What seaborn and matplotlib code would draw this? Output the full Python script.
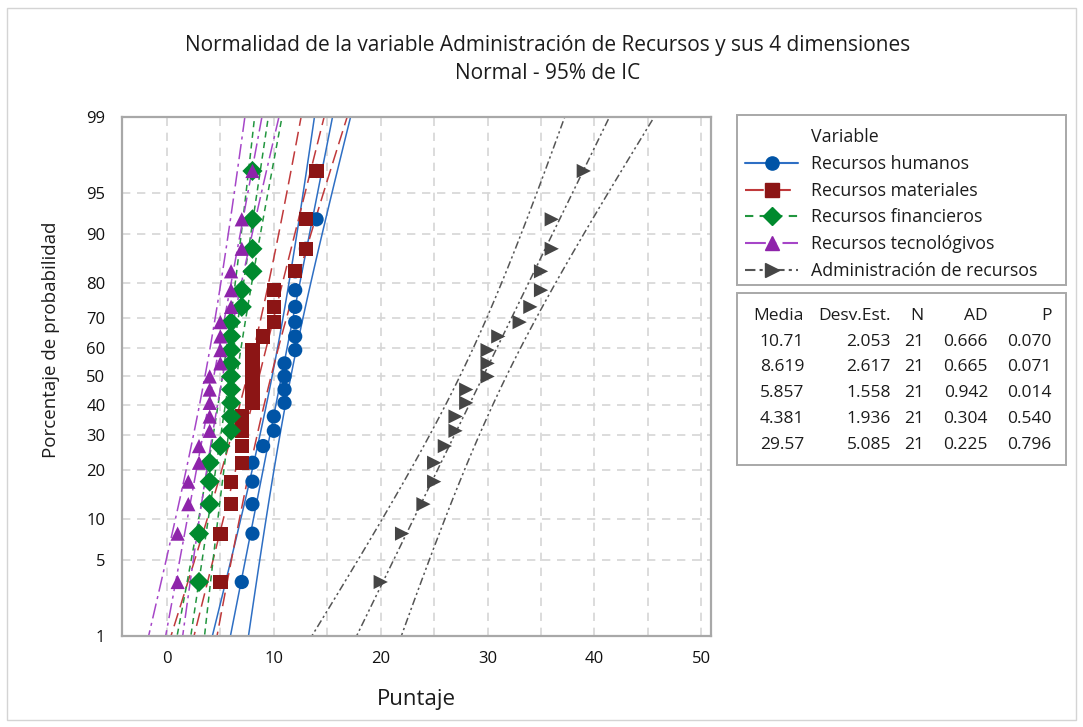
import numpy as np
import pandas as pd
import matplotlib
matplotlib.use("Agg")
import matplotlib.pyplot as plt
import seaborn as sns
from matplotlib.lines import Line2D
from matplotlib.patches import Rectangle
from statistics import NormalDist

# --- Data (21 scores per variable) ---
variables = ["Recursos humanos", "Recursos materiales", "Recursos financieros",
             "Recursos tecnológivos", "Administración de recursos"]
humanos = [7, 8, 8, 8, 8, 9, 10, 10, 11, 11, 11, 11, 12, 12, 12, 12, 12, 12, 13, 14, 14]
materiales = [5, 5, 6, 6, 7, 7, 7, 7, 8, 8, 8, 8, 8, 9, 10, 10, 10, 12, 13, 13, 14]
financieros = [3, 3, 4, 4, 4, 5, 6, 6, 6, 6, 6, 6, 6, 6, 6, 7, 7, 8, 8, 8, 8]
tecnologicos = [1, 1, 2, 2, 3, 3, 4, 4, 4, 4, 4, 5, 5, 5, 5, 6, 6, 6, 7, 7, 8]
administracion = [20, 22, 24, 25, 25, 26, 27, 27, 28, 28, 30, 30, 30, 31, 33, 34, 35, 35, 36, 36, 39]

# stats table (as printed on the chart)
media = ["10.71", "8.619", "5.857", "4.381", "29.57"]
desv = ["2.053", "2.617", "1.558", "1.936", "5.085"]
n_obs = ["21", "21", "21", "21", "21"]
ad = ["0.666", "0.665", "0.942", "0.304", "0.225"]
p_val = ["0.070", "0.071", "0.014", "0.540", "0.796"]

y_ticks = [1, 5, 10, 20, 30, 40, 50, 60, 70, 80, 90, 95, 99]

# --- Styles ---
marker_colors = ["#0054A6", "#8C1515", "#008A2E", "#8E24AA", "#454545"]
line_colors = ["#2E6FC4", "#C0393B", "#22963F", "#A646C8", "#555555"]
markers = ["o", "s", "D", "^", ">"]
dash_styles = ["", (9, 4), (4, 3), (10, 3, 2, 3), (5, 2, 1.5, 2, 1.5, 2)]

nd = NormalDist()
series = [humanos, materiales, financieros, tecnologicos, administracion]

# --- Points at median ranks ---
pts = []
for name, vals in zip(variables, series):
    vals = sorted(vals)
    n = len(vals)
    for i, v in enumerate(vals, start=1):
        pts.append({"Variable": name, "valor": v, "z": nd.inv_cdf((i - 0.3) / (n + 0.4))})
pts = pd.DataFrame(pts)

# --- Fitted line + 95% CI ---
zgrid = np.linspace(nd.inv_cdf(0.008), nd.inv_cdf(0.992), 120)
rows = []
for name, vals in zip(variables, series):
    vals = np.array(vals, dtype=float)
    m, s, n = vals.mean(), vals.std(ddof=1), len(vals)
    fit = m + s * zgrid
    hw = 1.96 * s * np.sqrt(1 / n + zgrid ** 2 / (2 * n))
    for tag, xs in [("fit", fit), ("lo", fit - hw), ("hi", fit + hw)]:
        for xv, zv in zip(xs, zgrid):
            rows.append({"Variable": name, "linea": tag, "x": xv, "z": zv})
lines = pd.DataFrame(rows)

sns.set_theme(style="white")
plt.rcParams["font.family"] = ["Open Sans", "DejaVu Sans"]
txt = "#1C1C1C"
frame_col = "#A8A8A8"

fig = plt.figure(figsize=(10.83, 7.27), dpi=100)
ax = fig.add_axes([0.1127, 0.1252, 0.5438, 0.7139])

sns.lineplot(data=lines, x="x", y="z", hue="Variable", style="Variable", units="linea",
             estimator=None, sort=False, palette=dict(zip(variables, line_colors)),
             dashes=dict(zip(variables, dash_styles)), linewidth=1.1, legend=False, ax=ax)
sns.scatterplot(data=pts, x="valor", y="z", hue="Variable", style="Variable",
                palette=dict(zip(variables, marker_colors)), markers=dict(zip(variables, markers)),
                s=105, edgecolor="none", linewidth=0, legend=False, ax=ax, zorder=5)

ax.set_xlim(-4.2, 50.9)
ax.set_ylim(nd.inv_cdf(0.01), nd.inv_cdf(0.99))
ax.set_xticks([0, 10, 20, 30, 40, 50])
ax.set_xticks([5, 15, 25, 35, 45], minor=True)
ax.set_yticks([nd.inv_cdf(t / 100) for t in y_ticks])
ax.set_yticklabels([str(t) for t in y_ticks])
ax.grid(True, which="both", color="#D6D6D6", linestyle=(0, (5, 4)), linewidth=1.2)
ax.set_axisbelow(True)
ax.tick_params(axis="both", which="major", labelsize=12, colors=frame_col, labelcolor="#111111",
               width=1, direction="out")
ax.tick_params(axis="y", length=9, pad=3)
ax.tick_params(axis="x", length=5, pad=6)
ax.tick_params(axis="x", which="minor", length=0)
for sp in ax.spines.values():
    sp.set_color(frame_col)
    sp.set_linewidth(1.6)

ax.set_xlabel("Puntaje", fontsize=16, color=txt, labelpad=16)
ax.set_ylabel("Porcentaje de probabilidad", fontsize=13.5, color=txt, labelpad=12)
ax.yaxis.set_label_coords(-0.105, 0.57)

fig.text(0.506, 0.938, "Normalidad de la variable Administración de Recursos y sus 4 dimensiones",
         ha="center", va="center", fontsize=15, color=txt)
fig.text(0.506, 0.899, "Normal - 95% de IC", ha="center", va="center", fontsize=15, color=txt)

# --- Legend ---
fig.patches.append(Rectangle((0.6805, 0.608), 0.3038, 0.2338, fill=False, edgecolor=frame_col,
                             linewidth=1.4, transform=fig.transFigure))
handles = [Line2D([], [], linestyle="none", marker=None)]
labels = ["Variable"]
for name, mc, lc, mk, ds in zip(variables, marker_colors, line_colors, markers, dash_styles):
    h = Line2D([], [], color=lc, marker=mk, markerfacecolor=mc, markeredgecolor=mc,
               markersize=9.5, linewidth=1.5)
    if ds:
        h.set_dashes(ds)
    handles.append(h)
    labels.append(name)
leg = fig.legend(handles, labels, loc="upper left", bbox_to_anchor=(0.683, 0.8308),
                 frameon=False, fontsize=12.8, handlelength=2.98, handletextpad=0.73,
                 labelspacing=0.49, borderpad=0.3, borderaxespad=0)
for t in leg.get_texts():
    t.set_color(txt)

# --- Stats table ---
tab = fig.add_axes([0.6805, 0.3604, 0.3038, 0.2366])
tab.set_xlim(0, 1)
tab.set_ylim(0, 1)
tab.axis("off")
tab.add_patch(Rectangle((0, 0), 1, 1, fill=False, edgecolor=frame_col, linewidth=1.4,
                        transform=tab.transAxes, clip_on=False))
cols = [0.204, 0.468, 0.568, 0.763, 0.957]
headers = ["Media", "Desv.Est.", "N", "AD", "P"]
row_y = [0.866, 0.715, 0.570, 0.419, 0.267, 0.116]
for cx, h in zip(cols, headers):
    tab.text(cx, row_y[0], h, ha="right", va="center", fontsize=12.5, color=txt)
for r, vals in enumerate(zip(media, desv, n_obs, ad, p_val)):
    for cx, v in zip(cols, vals):
        tab.text(cx, row_y[r + 1], v, ha="right", va="center", fontsize=12.5, color=txt)

# outer border
fig.patches.append(Rectangle((0.0065, 0.0096), 0.987, 0.9794, fill=False, edgecolor="#D4D4D4",
                             linewidth=1, transform=fig.transFigure))

fig.savefig("out.png", dpi=100)
